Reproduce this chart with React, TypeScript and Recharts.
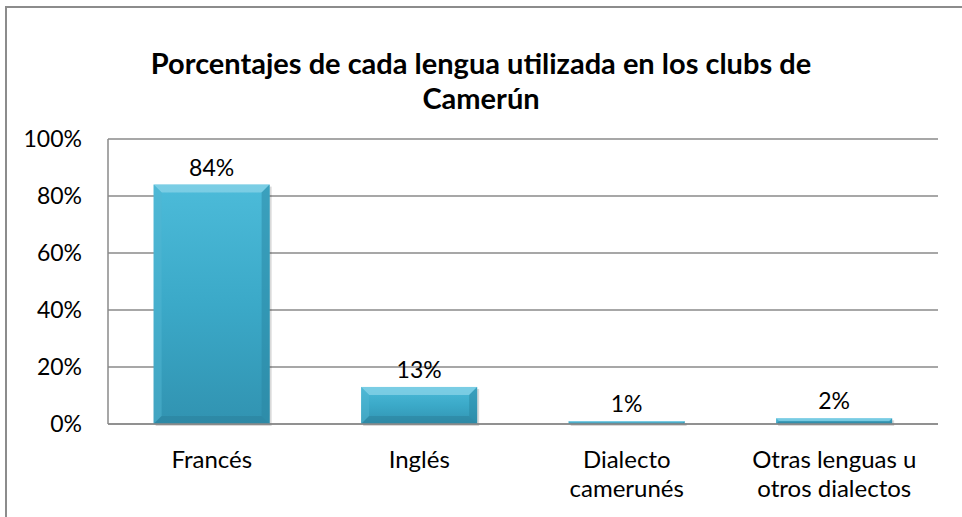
import React from 'react';
import { BarChart, Bar, XAxis, YAxis, CartesianGrid, LabelList } from 'recharts';

const categories = ['Francés', 'Inglés', 'Dialecto camerunés', 'Otras lenguas u otros dialectos'];
const tickLines = [['Francés'], ['Inglés'], ['Dialecto', 'camerunés'], ['Otras lenguas u', 'otros dialectos']];
const values = [84, 13, 1, 2];
const yTicks = [0, 20, 40, 60, 80, 100];

const data = categories.map((c, i) => ({ name: c, value: values[i] }));

const FONT = 'Lato, "Open Sans", sans-serif';

function BevelBar(props: any) {
  const { x, y, width, height } = props;
  if (height <= 0) return null;
  const b = Math.min(8, height / 2, width / 2);
  return (
    <g>
      <rect x={x + 2} y={y + 2} width={width} height={height} fill="rgba(0,0,0,0.15)" />
      <rect x={x} y={y} width={width} height={height} fill="url(#barFill)" />
      <polygon points={`${x},${y} ${x + width},${y} ${x + width - b},${y + b} ${x + b},${y + b}`} fill="#8fd6ea" opacity={0.7} />
      <polygon points={`${x},${y} ${x + b},${y + b} ${x + b},${y + height - b} ${x},${y + height}`} fill="#52b6d2" opacity={0.5} />
      <polygon points={`${x + width},${y} ${x + width - b},${y + b} ${x + width - b},${y + height - b} ${x + width},${y + height}`} fill="#2a86a2" opacity={0.5} />
      <polygon points={`${x},${y + height} ${x + b},${y + height - b} ${x + width - b},${y + height - b} ${x + width},${y + height}`} fill="#2a7d97" opacity={0.45} />
    </g>
  );
}

function CatTick(props: any) {
  const { x, y, payload } = props;
  const lines = tickLines[payload.index] || [payload.value];
  return (
    <g transform={`translate(${x},${y})`}>
      {lines.map((l, i) => (
        <text key={i} x={0} y={i * 29} dy={36} textAnchor="middle" fill="#000" fontSize={24} fontFamily={FONT}>
          {l}
        </text>
      ))}
    </g>
  );
}

export default function App() {
  return (
    <div style={{ position: 'absolute', left: 0, top: 0, width: 962, height: 517, background: '#fff', overflow: 'hidden' }}>
      <div
        style={{
          position: 'absolute',
          left: 5,
          top: 6,
          width: 1000,
          height: 600,
          borderLeft: '2px solid #8c8c8c',
          borderTop: '2px solid #8c8c8c',
        }}
      />
      <div
        style={{
          position: 'absolute',
          left: 0,
          top: 45,
          width: 962,
          textAlign: 'center',
          fontFamily: FONT,
          fontWeight: 700,
          fontSize: 29,
          lineHeight: '35px',
          color: '#000',
        }}
      >
        Porcentajes de cada lengua utilizada en los clubs de
        <br />
        Camerún
      </div>
      <div style={{ position: 'absolute', left: 0, top: 0 }}>
        <BarChart
          width={962}
          height={517}
          data={data}
          margin={{ top: 139, right: 24, bottom: 33, left: 48 }}
          barCategoryGap="22%"
        >
          <defs>
            <linearGradient id="barFill" x1="0" y1="0" x2="0" y2="1">
              <stop offset="0%" stopColor="#4cbbd9" />
              <stop offset="50%" stopColor="#3ba9c8" />
              <stop offset="100%" stopColor="#3193b1" />
            </linearGradient>
          </defs>
          <CartesianGrid vertical={false} stroke="#8a8a8a" strokeWidth={1.5} />
          <XAxis
            dataKey="name"
            height={60}
            axisLine={{ stroke: '#8a8a8a', strokeWidth: 1.5 }}
            tickLine={false}
            interval={0}
            tick={<CatTick />}
          />
          <YAxis
            width={60}
            domain={[0, 100]}
            ticks={yTicks}
            tickFormatter={(v) => `${v}%`}
            axisLine={{ stroke: '#8a8a8a', strokeWidth: 1.5 }}
            tickLine={false}
            tickMargin={20}
            tick={{ fill: '#000', fontSize: 23, fontFamily: FONT }}
          />
          <Bar dataKey="value" shape={<BevelBar />} isAnimationActive={false}>
            <LabelList
              dataKey="value"
              position="top"
              offset={9}
              formatter={(v: any) => `${v}%`}
              style={{ fill: '#000', fontSize: 23, fontFamily: FONT }}
            />
          </Bar>
        </BarChart>
      </div>
    </div>
  );
}
